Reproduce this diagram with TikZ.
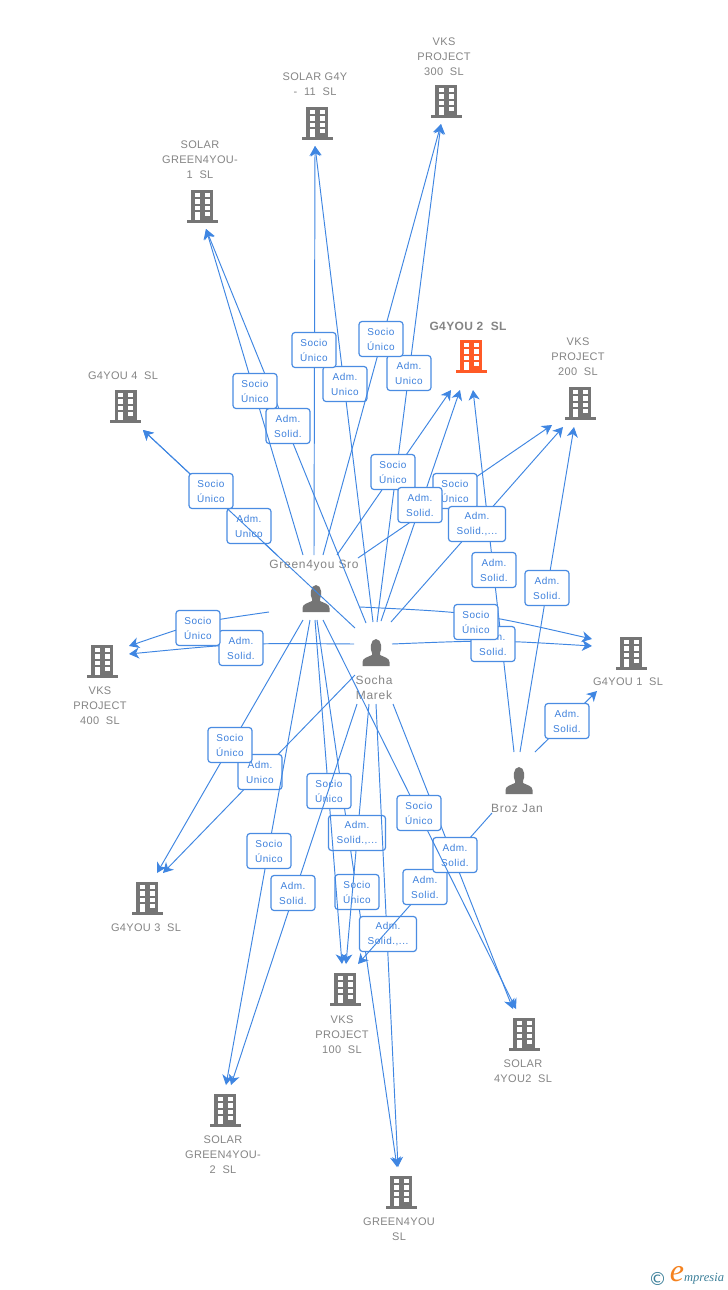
\documentclass[tikz,border=0pt]{standalone}
\usepackage{fontspec}
\setmainfont{Liberation Sans}
\newfontfamily\tagfont[LetterSpace=5]{Liberation Sans}
\newfontfamily\namefont[LetterSpace=6]{Liberation Sans}
\newfontfamily\firmfont[LetterSpace=3]{Liberation Sans}
\newfontfamily\logofont{Liberation Serif}
\newfontfamily\symfont{DejaVu Sans}
\usetikzlibrary{arrows.meta}
\definecolor{linkblue}{HTML}{3F86E2}
\definecolor{tagblue}{HTML}{3D80DC}
\definecolor{bordblue}{HTML}{4A8CE2}
\definecolor{icongrey}{HTML}{757575}
\definecolor{labelgrey}{HTML}{858585}
\definecolor{hotorange}{HTML}{FF5A26}
\definecolor{logoteal}{HTML}{3B7F99}
\definecolor{logoorange}{HTML}{F5821F}
\tikzset{
  link/.style={draw=linkblue,line width=0.95bp,-{Stealth[length=10bp,width=11bp,inset=3bp]}},
  tagbox/.style={draw=bordblue,line width=1.2bp,fill=white,rounded corners=3bp,minimum width=44bp,minimum height=35bp,inner sep=0pt,align=center,text=tagblue,font=\tagfont\fontsize{10bp}{15bp}\selectfont},
  widetag/.style={minimum width=57bp},
  firm/.style={text=labelgrey,align=center,inner sep=0pt,font=\firmfont\fontsize{11bp}{15bp}\selectfont},
  firmbold/.style={firm,font=\firmfont\bfseries\fontsize{12bp}{15bp}\selectfont},
  person/.style={text=labelgrey,align=center,inner sep=0pt,font=\namefont\fontsize{12bp}{15bp}\selectfont},
}
% building icon: centre x, top y, colour
\newcommand\building[3]{%
  \begin{scope}[shift={(#1,#2)}]
    \fill[#3] (-11,0) rectangle (11,30);
    \fill[#3] (-15.5,30) rectangle (15.5,33);
    \foreach \wy in {3.2,9.4,15.6}{
      \fill[white] (-7.5,\wy) rectangle (-2.5,\wy+4.2);
      \fill[white] (2.5,\wy) rectangle (7.5,\wy+4.2);
    }
    \fill[white] (-7.5,22) rectangle (-2.5,30);
    \fill[white] (2.5,21.8) rectangle (7.5,26);
  \end{scope}}
% person icon: centre x, bottom y
\newcommand\personicon[2]{%
  \begin{scope}[shift={(#1,#2)}]
    \fill[icongrey] (-13.5,0) -- (-13.5,-4) .. controls (-13.5,-8) and (-8,-9) .. (-4,-11)
      -- (-4,-13) .. controls (-6,-16) and (-6,-27) .. (0,-27)
      .. controls (6,-27) and (6,-16) .. (4,-13) -- (4,-11)
      .. controls (8,-9) and (13.5,-8) .. (13.5,-4) -- (13.5,0) -- cycle;
  \end{scope}}
% connector with its tag: id, start, end, tag position, tag text
\newcommand\conn[6][]{%
  \coordinate (#2-s) at (#3);
  \coordinate (#2-e) at (#4);
  \draw[link] (#2-s) -- (#2-e);
  \node[tagbox,#1] (#2-t) at (#5) {#6};}
\newcommand\curveconn[7][]{%
  \coordinate (#2-s) at (#3);
  \coordinate (#2-e) at (#4);
  \coordinate (#2-c) at (#5);
  \draw[link] (#2-s) .. controls (#2-c) .. (#2-e);
  \node[tagbox,#1] (#2-t) at (#6) {#7};}
\newcommand\SU{Socio\\Único}
\newcommand\AU{Adm.\\Unico}
\newcommand\AS{Adm.\\Solid.}
\newcommand\AW{Adm.\\Solid.,...}
\begin{document}
\begin{tikzpicture}[x=1bp,y=-1bp]
\useasboundingbox (0,0) rectangle (728,1290);
\fill[white] (0,0) rectangle (728,1290);
% buildings
\building{446}{85}{icongrey}
\building{317}{107}{icongrey}
\building{202}{190}{icongrey}
\building{471}{340}{hotorange}
\building{580}{387}{icongrey}
\building{125.5}{390}{icongrey}
\building{102}{645}{icongrey}
\building{631}{637}{icongrey}
\building{147}{882}{icongrey}
\building{345}{973}{icongrey}
\building{524}{1018}{icongrey}
\building{225}{1094}{icongrey}
\building{401}{1176}{icongrey}
% persons
\personicon{316}{612}
\personicon{376}{666}
\personicon{519}{794}
% company names
\node[firm] (vks300) at (444,57) {VKS\\PROJECT\\300\ \ SL};
\node[firm] (solar11) at (315,84.5) {SOLAR G4Y\\-\ \ 11\ \ SL};
\node[firm] (solar1) at (200,160) {SOLAR\\GREEN4YOU-\\1\ \ SL};
\node[firmbold] (g2) at (468,326) {G4YOU 2\ \ SL};
\node[firm] (vks200) at (578,357) {VKS\\PROJECT\\200\ \ SL};
\node[firm] (g4) at (123,376) {G4YOU 4\ \ SL};
\node[firm] (vks400) at (100,706) {VKS\\PROJECT\\400\ \ SL};
\node[firm] (g1) at (628,682) {G4YOU 1\ \ SL};
\node[firm] (g3) at (146,928) {G4YOU 3\ \ SL};
\node[firm] (vks100) at (342,1035) {VKS\\PROJECT\\100\ \ SL};
\node[firm] (solar4) at (523,1071.5) {SOLAR\\4YOU2\ \ SL};
\node[firm] (solar2) at (223,1155) {SOLAR\\GREEN4YOU-\\2\ \ SL};
\node[firm] (green) at (399,1229.5) {GREEN4YOU\\SL};
% person names
\node[person] (gs) at (314,566) {Green4you Sro};
\node[person] (sm) at (374,687.5) {Socha\\Marek};
\node[person] (bj) at (517,808) {Broz Jan};
% connectors, in drawing order
\conn{a13}{366,623}{206,229}{288,426}{\AS}
\conn{a1}{303,555}{206,229}{255,391}{\SU}
\conn{a14}{373,622}{315,146}{345,384}{\AU}
\conn{a2}{314,555}{315,146}{314,350}{\SU}
\conn{a15}{377,622}{441,124}{409,373}{\AU}
\conn{a3}{323,555}{441,124}{381,339}{\SU}
\conn{a4}{337,555}{451,390}{393,472}{\SU}
\conn{a5}{358,558}{552,425}{455,491}{\SU}
\conn{a16}{381,621}{460,390}{420,505}{\AS}
\conn{a25}{514,752}{473,390}{494,570}{\AS}
\conn[widetag]{a17}{391,622}{563,427}{477,524}{\AW}
\conn{a26}{520,752}{574,427}{547,588}{\AS}
\conn{a30}{355,628}{143,430}{249,526}{\AU}
\conn{a31}{277,555}{143,430}{211,491}{\SU}
\curveconn{a18}{392,644}{592,646}{493,640}{493,644}{\AS}
\curveconn{a6}{360,607}{592,639}{476,612.5}{476,622}{\SU}
\conn{a27}{535,752}{597,691}{567,721}{\AS}
\curveconn{a19}{354,644}{129,654}{242,643}{241,648}{\AS}
\curveconn{a7}{269,612}{129,646}{199,622}{198,628}{\SU}
\conn{a20}{355,675}{163,873}{260,772}{\AU}
\conn{a8}{303,620}{157,873}{230,745}{\SU}
\conn{a9}{310,620}{226,1085}{269,851}{\SU}
\conn{a11}{317,620}{397,1167}{357,892}{\SU}
\conn[widetag]{a22}{369,704}{346,964}{357,833}{\AW}
\conn{a10}{315,620}{342,964}{329,791}{\SU}
\conn{a21}{357,704}{231,1085}{293,893}{\AS}
\conn[widetag]{a23}{376,704}{398,1167}{388,934}{\AW}
\conn{a28}{492,813}{358,964}{425,887}{\AS}
\conn{a24}{393,704}{513,1009}{455,855}{\AS}
\conn{a12}{323,620}{516,1009}{419,813}{\SU}
% logo
\node[text=logoteal,inner sep=0pt,font=\symfont\fontsize{18bp}{18bp}\selectfont] (copy) at (657.5,1278.5) {©};
\node[text=logoorange,inner sep=0pt,font=\logofont\itshape\fontsize{32bp}{32bp}\selectfont] (logoe) at (677,1274) {e};
\node[text=logoteal,inner sep=0pt,anchor=west,font=\logofont\itshape\fontsize{12.5bp}{13bp}\selectfont] (logot) at (684,1279) {mpresia};
\end{tikzpicture}
\end{document}
